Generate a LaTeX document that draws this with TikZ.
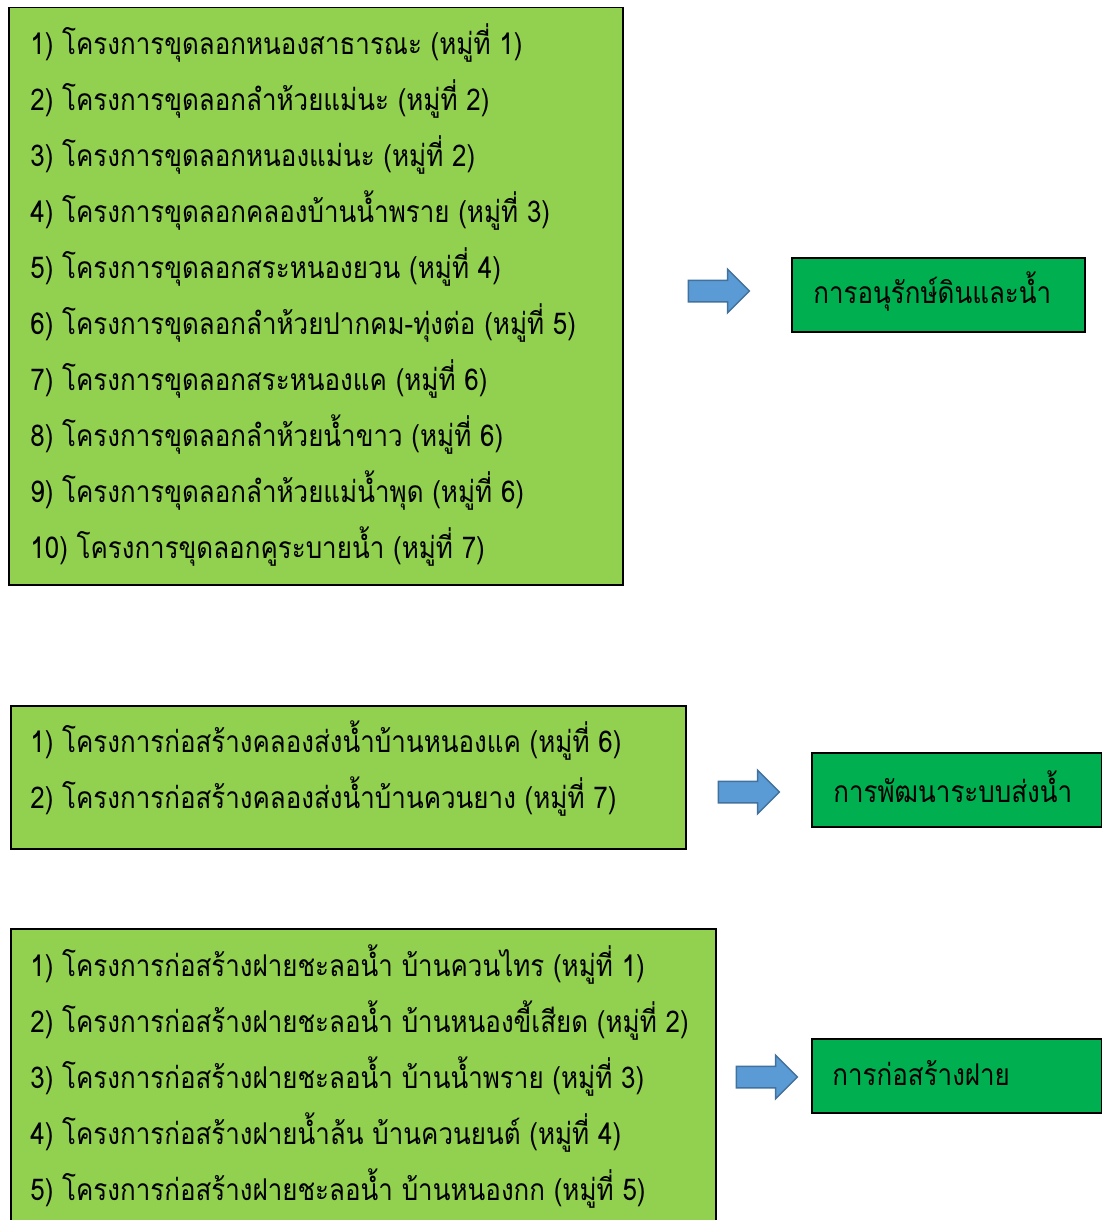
\documentclass[tikz,border=0pt]{standalone}
\usepackage{fontspec}
\newfontfamily\thaifont[Script=Thai, FakeStretch=0.865]{Loma}
\usetikzlibrary{shapes.arrows}
\definecolor{listgreen}{HTML}{92D050}
\definecolor{goalgreen}{HTML}{00B050}
\definecolor{arrowblue}{HTML}{5B9BD5}
\definecolor{arrowedge}{HTML}{41719C}
\tikzstyle{listbox}=[draw, fill=listgreen, line width=0.75pt, anchor=north west, inner sep=0pt]
\tikzstyle{listtext}=[anchor=north west, align=left, inner sep=0pt, font=\thaifont\fontsize{15}{28}\selectfont]
\tikzstyle{goalbox}=[draw, fill=goalgreen, line width=1pt, anchor=north west, inner sep=0pt, minimum width=145pt, minimum height=37pt]
\tikzstyle{goaltext}=[anchor=west, inner sep=0pt, font=\thaifont\fontsize{15}{28}\selectfont]
\tikzstyle{blockarrow}=[single arrow, draw=arrowedge, fill=arrowblue, line width=0.75pt, inner xsep=0pt, inner ysep=5pt, minimum height=30.5pt, minimum width=21pt, single arrow head extend=5.5pt]

\begin{document}
\begin{tikzpicture}[x=0.5pt, y=-0.5pt]
        \clip (0, 0) rectangle (1102, 1220);
        \fill[white] (0, 0) rectangle (1102, 1220);
        % project lists
        \node[listbox, minimum width=307pt, minimum height=288.5pt] (L1) at (8, 7) {};
        \node[listbox, minimum width=337.5pt, minimum height=71.5pt] (L2) at (10, 705) {};
        \node[listbox, minimum width=352.5pt, minimum height=160pt]  (L3) at (10, 928) {};
        \node[listtext] (T1) at (30, 23) {1) โครงการขุดลอกหนองสาธารณะ (หมู่ที่ 1)\\
            2) โครงการขุดลอกลำห้วยแม่นะ (หมู่ที่ 2)\\
            3) โครงการขุดลอกหนองแม่นะ (หมู่ที่ 2)\\
            4) โครงการขุดลอกคลองบ้านน้ำพราย (หมู่ที่ 3)\\
            5) โครงการขุดลอกสระหนองยวน (หมู่ที่ 4)\\
            6) โครงการขุดลอกลำห้วยปากคม-ทุ่งต่อ (หมู่ที่ 5)\\
            7) โครงการขุดลอกสระหนองแค (หมู่ที่ 6)\\
            8) โครงการขุดลอกลำห้วยน้ำขาว (หมู่ที่ 6)\\
            9) โครงการขุดลอกลำห้วยแม่น้ำพุด (หมู่ที่ 6)\\
            10) โครงการขุดลอกคูระบายน้ำ (หมู่ที่ 7)};
        \node[listtext] (T2) at (30, 720) {1) โครงการก่อสร้างคลองส่งน้ำบ้านหนองแค (หมู่ที่ 6)\\
            2) โครงการก่อสร้างคลองส่งน้ำบ้านควนยาง (หมู่ที่ 7)};
        \node[listtext] (T3) at (30, 944) {1) โครงการก่อสร้างฝายชะลอน้ำ บ้านควนไทร (หมู่ที่ 1)\\
            2) โครงการก่อสร้างฝายชะลอน้ำ บ้านหนองขี้เสียด (หมู่ที่ 2)\\
            3) โครงการก่อสร้างฝายชะลอน้ำ บ้านน้ำพราย (หมู่ที่ 3)\\
            4) โครงการก่อสร้างฝายน้ำล้น บ้านควนยนต์ (หมู่ที่ 4)\\
            5) โครงการก่อสร้างฝายชะลอน้ำ บ้านหนองกก (หมู่ที่ 5)};
        % arrows
        \node[blockarrow] (A1) at (713.5, 291) {};
        \node[blockarrow] (A2) at (743.5, 792) {};
        \node[blockarrow] (A3) at (761.5, 1077) {};
        % goals
        \node[goalbox, minimum width=146.5pt] (G1) at (791, 257) {};
        \node[goalbox] (G2) at (811, 752) {};
        \node[goalbox] (G3) at (811, 1038) {};
        \node[goaltext] at (813, 292) {การอนุรักษ์ดินและน้ำ};
        \node[goaltext] at (833, 787) {การพัฒนาระบบส่งน้ำ};
        \node[goaltext] at (832, 1073) {การก่อสร้างฝาย};
    \end{tikzpicture}
\end{document}
